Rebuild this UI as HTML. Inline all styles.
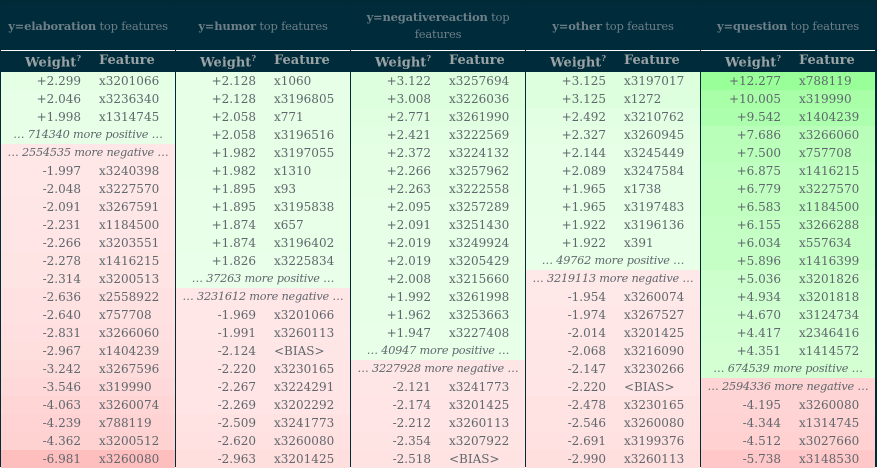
<!DOCTYPE html>
<html><head><meta charset="utf-8">
<style>
html,body{margin:0;padding:0;background:#fff;}
body{width:877px;height:469px;overflow:hidden;position:relative;font-family:"DejaVu Serif","Liberation Serif",serif;}
#wrap{position:absolute;left:0;top:0;width:877px;height:467px;background:#002b36;}
.panel{position:absolute;top:2px;width:174px;height:464px;background:#fff;}
.hdr{position:absolute;left:0;top:0;width:100%;height:48px;background:#002b3a;color:#6d7f88;font-size:11.5px;letter-spacing:-0.2px;display:flex;align-items:center;justify-content:center;text-align:center;line-height:17px;white-space:nowrap;}
.hdr.two{white-space:normal;}
.hdr b{font-weight:bold;}
.sub{position:absolute;left:0;top:49px;width:100%;height:21px;background:#002b3a;color:#9aa3a5;font-size:13px;font-weight:bold;}
.sub span{position:absolute;top:2px;}
.row{position:absolute;left:0;width:100%;height:18px;font-size:12px;color:#5f676d;line-height:18px;}
.w{position:absolute;right:94px;text-align:right;}
.f{position:absolute;left:98px;}
.more{position:absolute;left:0;width:100%;text-align:center;font-style:italic;font-size:11.3px;letter-spacing:-0.2px;white-space:nowrap;}
sup{font-size:8px;}
</style></head><body>
<div id="wrap"></div>
<script>
const targets = ["elaboration","humor","negativereaction","other","question"];
const posWeights = [
 [2.299,2.046,1.998],
 [2.128,2.128,2.058,2.058,1.982,1.982,1.895,1.895,1.874,1.874,1.826],
 [3.122,3.008,2.771,2.421,2.372,2.266,2.263,2.095,2.091,2.019,2.019,2.008,1.992,1.962,1.947],
 [3.125,3.125,2.492,2.327,2.144,2.089,1.965,1.965,1.922,1.922],
 [12.277,10.005,9.542,7.686,7.500,6.875,6.779,6.583,6.155,6.034,5.896,5.036,4.934,4.670,4.417,4.351]
];
const posFeatures = [
 ["x3201066","x3236340","x1314745"],
 ["x1060","x3196805","x771","x3196516","x3197055","x1310","x93","x3195838","x657","x3196402","x3225834"],
 ["x3257694","x3226036","x3261990","x3222569","x3224132","x3257962","x3222558","x3257289","x3251430","x3249924","x3205429","x3215660","x3261998","x3253663","x3227408"],
 ["x3197017","x1272","x3210762","x3260945","x3245449","x3247584","x1738","x3197483","x3196136","x391"],
 ["x788119","x319990","x1404239","x3266060","x757708","x1416215","x3227570","x1184500","x3266288","x557634","x1416399","x3201826","x3201818","x3124734","x2346416","x1414572"]
];
const morePos = ["714340","37263","40947","49762","674539"];
const moreNeg = ["2554535","3231612","3227928","3219113","2594336"];
const negWeights = [
 [-1.997,-2.048,-2.091,-2.231,-2.266,-2.278,-2.314,-2.636,-2.640,-2.831,-2.967,-3.242,-3.546,-4.063,-4.239,-4.362,-6.981],
 [-1.969,-1.991,-2.124,-2.220,-2.267,-2.269,-2.509,-2.620,-2.963],
 [-2.121,-2.174,-2.212,-2.354,-2.518],
 [-1.954,-1.974,-2.014,-2.068,-2.147,-2.220,-2.478,-2.546,-2.691,-2.990],
 [-4.195,-4.344,-4.512,-5.738]
];
const negFeatures = [
 ["x3240398","x3227570","x3267591","x1184500","x3203551","x1416215","x3200513","x2558922","x757708","x3266060","x1404239","x3267596","x319990","x3260074","x788119","x3200512","x3260080"],
 ["x3201066","x3260113","<BIAS>","x3230165","x3224291","x3202292","x3241773","x3260080","x3201425"],
 ["x3241773","x3201425","x3260113","x3207922","<BIAS>"],
 ["x3260074","x3267527","x3201425","x3216090","x3230266","<BIAS>","x3230165","x3260080","x3199376","x3260113"],
 ["x3260080","x1314745","x3027660","x3148530"]
];
const maxW = Math.max(...posWeights.flat().map(Math.abs), ...negWeights.flat().map(Math.abs));
function colorFor(w){
  const r = Math.pow(Math.abs(w)/maxW, 0.8);
  const L = 100 - 20*r;
  return w>=0 ? `hsl(120,100%,${L}%)` : `hsl(0,100%,${L}%)`;
}
function fmt(w){ return (w>=0?'+':'')+w.toFixed(3); }
const wrap = document.getElementById('wrap');
const ROW = 18, TOP = 70;
targets.forEach((t,i)=>{
  const p = document.createElement('div');
  p.className='panel';
  p.style.left = (i*175 + 1)+'px';
  
  
  const h = document.createElement('div');
  h.className = t.length > 12 ? 'hdr two' : 'hdr';
  h.innerHTML = '<div><b>y='+t+'</b> top features</div>';
  
  
  p.appendChild(h);
  const s = document.createElement('div');
  s.className='sub';
  s.innerHTML = '<span style="right:94px">Weight<sup>?</sup></span><span style="left:98px">Feature</span>';
  
  
  p.appendChild(s);
  let y = TOP;
  function addRow(w, f){
    const r = document.createElement('div');
    r.className='row';
    r.style.top = y+'px';
    r.style.background = colorFor(w);
    
    
    const a = document.createElement('span'); a.className='w'; a.textContent = fmt(w);
    const b = document.createElement('span'); b.className='f'; b.textContent = f;
    r.appendChild(a); r.appendChild(b);
    p.appendChild(r); y += ROW;
  }
  function addMore(txt, w){
    const r = document.createElement('div');
    r.className='row';
    r.style.top = y+'px';
    r.style.background = colorFor(w);
    
    
    r.innerHTML = '<span class="more">… '+txt+' …</span>';
    p.appendChild(r); y += ROW;
  }
  posWeights[i].forEach((w,j)=>addRow(w, posFeatures[i][j]));
  addMore(morePos[i]+' more positive', posWeights[i][posWeights[i].length-1]);
  addMore(moreNeg[i]+' more negative', negWeights[i][0]);
  negWeights[i].forEach((w,j)=>addRow(w, negFeatures[i][j]));
  wrap.appendChild(p);
});
</script>
</body></html>
